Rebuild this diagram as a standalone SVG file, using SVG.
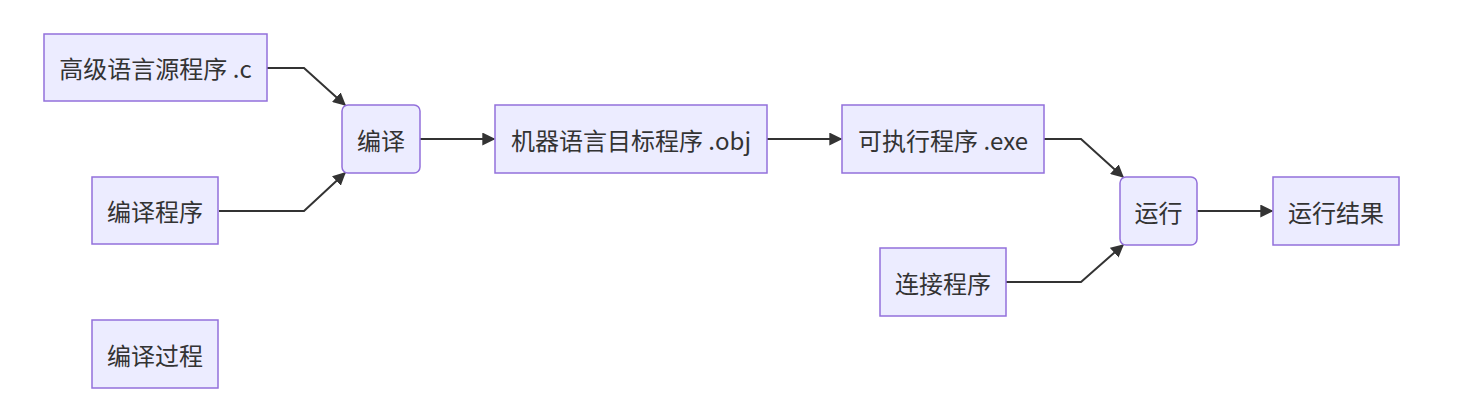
<svg xmlns="http://www.w3.org/2000/svg" width="1471" height="418" viewBox="0 0 1471 418">
<defs>
<style>
.node rect{fill:#ECECFF;stroke:#9370DB;stroke-width:1.5px}
.node text{font-family:"Noto Sans CJK SC","Noto Sans",sans-serif;font-size:24px;fill:#333;text-anchor:middle;dominant-baseline:central}
.edge{fill:none;stroke:#333333;stroke-width:2px;marker-end:url(#arrow)}
</style>
<marker id="arrow" viewBox="0 0 10 10" refX="9" refY="5" markerWidth="13" markerHeight="13" markerUnits="userSpaceOnUse" orient="auto">
<path d="M0,0 L10,5 L0,10 z" fill="#333333"/>
</marker>
</defs>
<rect width="1471" height="418" fill="#ffffff"/>
<g id="connectors">
<path class="edge" d="M267,68 L304,68 L345,105"/>
<path class="edge" d="M219,211 L304,211 L345,173"/>
<path class="edge" d="M420,139 L494,139"/>
<path class="edge" d="M767,139 L841,139"/>
<path class="edge" d="M1044,139 L1081,139 L1123,177"/>
<path class="edge" d="M1006,282 L1081,282 L1123,245"/>
<path class="edge" d="M1197,211 L1272,211"/>
</g>
<g id="src" class="node"><rect x="44" y="34" width="223" height="67"/><text x="155.5" y="67.5">高级语言源程序 .c</text></g>
<g id="compile" class="node"><rect x="342" y="105" width="78" height="68" rx="6" ry="6"/><text x="381" y="139">编译</text></g>
<g id="compiler" class="node"><rect x="92" y="177" width="126" height="67"/><text x="155" y="210.5">编译程序</text></g>
<g id="obj" class="node"><rect x="495" y="105" width="272" height="68"/><text x="631" y="139">机器语言目标程序 .obj</text></g>
<g id="exe" class="node"><rect x="842" y="105" width="202" height="68"/><text x="943" y="139">可执行程序 .exe</text></g>
<g id="run" class="node"><rect x="1120" y="177" width="77" height="68" rx="6" ry="6"/><text x="1158.5" y="211">运行</text></g>
<g id="result" class="node"><rect x="1273" y="177" width="126" height="68"/><text x="1336" y="211">运行结果</text></g>
<g id="linker" class="node"><rect x="880" y="248" width="126" height="68"/><text x="943" y="282">连接程序</text></g>
<g id="process" class="node"><rect x="92" y="320" width="126" height="68"/><text x="155" y="354">编译过程</text></g>
</svg>
